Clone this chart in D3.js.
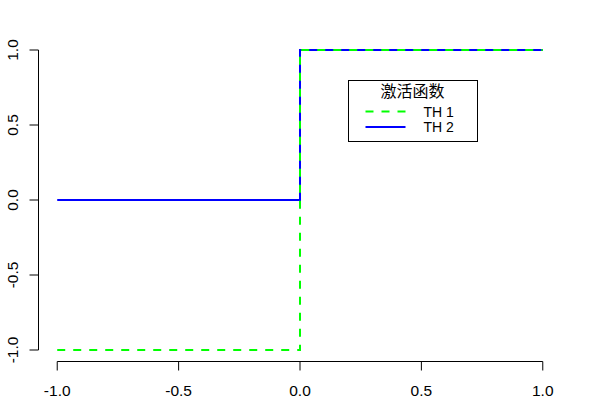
<!DOCTYPE html>
<html>
<head>
<meta charset="utf-8">
<script src="https://cdn.jsdelivr.net/npm/d3@7"></script>
<style>
  body { margin: 0; background: #fff; }
  text { font-family: "Liberation Sans", Arial, sans-serif; }
</style>
</head>
<body>
<div id="viz"></div>
<script>
// data
var xVals = [-1, 0, 0, 1];
var th1 = [-1, -1, 1, 1];
var th2 = [0, 0, 1, 1];
var xTicks = [-1, -0.5, 0, 0.5, 1];
var yTicks = [-1, -0.5, 0, 0.5, 1];
var legendTitle = "激活函数";
var seriesNames = ["TH 1", "TH 2"];

var width = 600, height = 400;

var svg = d3.select("#viz")
  .append("svg")
    .attr("width", width)
    .attr("height", height);

// R style: data range padded by 4%
var x = d3.scaleLinear().domain([-1.08, 1.08]).range([37.8, 562.2]);
var y = d3.scaleLinear().domain([-1.08, 1.08]).range([362, 38]);

var fmt = d => d3.format(".1f")(d).replace("−", "-");

// x axis
var xAxis = svg.append("g")
  .attr("transform", "translate(0,361.5)");
xAxis.append("line")
  .attr("x1", x(-1)).attr("x2", x(1))
  .attr("stroke", "#000");
xAxis.selectAll(".tick")
  .data(xTicks)
  .enter().append("line")
    .attr("x1", d => x(d)).attr("x2", d => x(d))
    .attr("y1", 0).attr("y2", 9)
    .attr("stroke", "#000");
xAxis.selectAll(".lab")
  .data(xTicks)
  .enter().append("text")
    .attr("x", d => x(d))
    .attr("y", 34.5)
    .attr("text-anchor", "middle")
    .attr("font-size", 15.5)
    .text(fmt);

// y axis
var yAxis = svg.append("g")
  .attr("transform", "translate(38.5,0)");
yAxis.append("line")
  .attr("y1", y(-1)).attr("y2", y(1))
  .attr("stroke", "#000");
yAxis.selectAll(".tick")
  .data(yTicks)
  .enter().append("line")
    .attr("y1", d => y(d)).attr("y2", d => y(d))
    .attr("x1", 0).attr("x2", -9)
    .attr("stroke", "#000");
yAxis.selectAll(".lab")
  .data(yTicks)
  .enter().append("text")
    .attr("transform", d => "translate(-21," + y(d) + ") rotate(-90)")
    .attr("text-anchor", "middle")
    .attr("font-size", 15.5)
    .text(fmt);

var line = d3.line()
  .x(function(d) { return x(d[0]); })
  .y(function(d) { return y(d[1]); });

// blue under, green dashed on top
svg.append("path")
  .datum(d3.zip(xVals, th2))
  .attr("fill", "none")
  .attr("stroke", "#0000ff")
  .attr("stroke-width", 2)
  .attr("d", line);

svg.append("path")
  .datum(d3.zip(xVals, th1))
  .attr("fill", "none")
  .attr("stroke", "#00ff00")
  .attr("stroke-width", 2)
  .attr("stroke-dasharray", "8,8")
  .attr("d", line);

// legend
var lg = svg.append("g").attr("transform", "translate(348.5,80.5)");
lg.append("rect")
  .attr("width", 129).attr("height", 61)
  .attr("fill", "#fff")
  .attr("stroke", "#000");
lg.append("text")
  .attr("x", 64).attr("y", 16)
  .attr("text-anchor", "middle")
  .attr("font-size", 16)
  .style("font-family", "'Noto Sans CJK SC', sans-serif")
  .text(legendTitle);
var colors = ["#00ff00", "#0000ff"];
var dashes = ["8,8", null];
seriesNames.forEach(function(name, i) {
  var yy = 31 + i * 15.5;
  lg.append("line")
    .attr("x1", 17).attr("x2", 57)
    .attr("y1", yy).attr("y2", yy)
    .attr("stroke", colors[i])
    .attr("stroke-width", 2)
    .attr("stroke-dasharray", dashes[i]);
  lg.append("text")
    .attr("x", 75).attr("y", yy + 5)
    .attr("font-size", 14)
    .text(name);
});
</script>
</body>
</html>
